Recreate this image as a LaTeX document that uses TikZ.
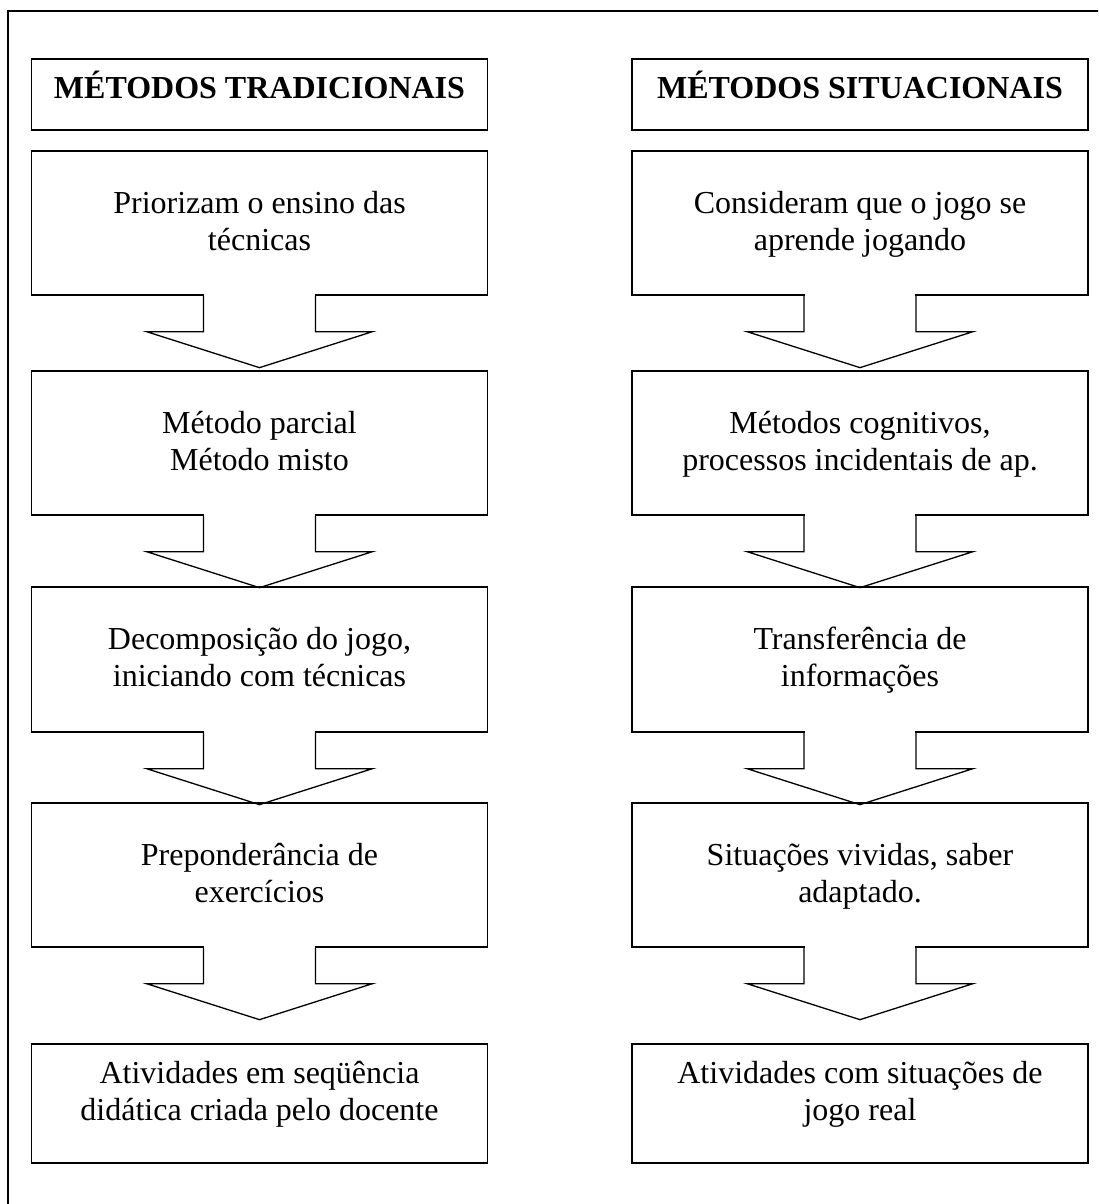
\documentclass[tikz,border=0pt]{standalone}
\usepackage{fontspec}
\setmainfont{Liberation Serif}
\tikzset{
  box/.style={draw=black, line width=1.3pt, minimum width=456pt, inner sep=0pt, fill=white},
  txt/.style={anchor=base, inner sep=0pt, font=\fontsize{32}{37}\selectfont},
  hdr/.style={anchor=base, inner sep=0pt, font=\fontsize{32}{37}\selectfont\bfseries},
  arr/.style={draw=black, line width=1.3pt, line join=miter}
}
\newcommand\flowarrow[1]{%
  \fill[white] ([xshift=-55.4pt,yshift=1.2pt]#1.south) rectangle ([xshift=55.4pt,yshift=-2pt]#1.south);
  \draw[arr] ([xshift=-56pt]#1.south) -- ([xshift=-56pt,yshift=-36pt]#1.south)
     -- ([xshift=-113pt,yshift=-36pt]#1.south) -- ([yshift=-72pt]#1.south)
     -- ([xshift=113pt,yshift=-36pt]#1.south) -- ([xshift=56pt,yshift=-36pt]#1.south)
     -- ([xshift=56pt]#1.south);}
\newcommand\twolines[2]{\begin{tabular}[t]{@{}c@{}}#1\\#2\end{tabular}}
\begin{document}
\begin{tikzpicture}[x=1pt,y=1pt]
\useasboundingbox (0,0) rectangle (1098,-1204);
\begin{scope}
\clip (0,0) rectangle (1098,-1204);
\draw[line width=1.6pt] (8,-11) rectangle (1120,-1230);
\end{scope}
% left column
\node[box, minimum height=71pt] (lh) at (259.5,-94.5) {};
\node[box, minimum height=144pt] (l1) at (259.5,-223) {};
\node[box, minimum height=144pt] (l2) at (259.5,-443) {};
\node[box, minimum height=145pt] (l3) at (259.5,-659.5) {};
\node[box, minimum height=144pt] (l4) at (259.5,-875) {};
\node[box, minimum height=119pt] (l5) at (259.5,-1103.5) {};
% right column
\node[box, minimum height=71pt] (rh) at (860,-94.5) {};
\node[box, minimum height=144pt] (r1) at (860,-223) {};
\node[box, minimum height=144pt] (r2) at (860,-443) {};
\node[box, minimum height=145pt] (r3) at (860,-659.5) {};
\node[box, minimum height=144pt] (r4) at (860,-875) {};
\node[box, minimum height=119pt] (r5) at (860,-1103.5) {};
% arrows
\flowarrow{l1}\flowarrow{l2}\flowarrow{l3}\flowarrow{l4}
\flowarrow{r1}\flowarrow{r2}\flowarrow{r3}\flowarrow{r4}
% texts
\node[hdr] (lht) at (259.5,-99) {MÉTODOS TRADICIONAIS};
\node[hdr] (rht) at (860,-99) {MÉTODOS SITUACIONAIS};
\node[txt] (l1t) at (259.5,-213) {\twolines{Priorizam o ensino das}{técnicas}};
\node[txt] (l2t) at (259.5,-433) {\twolines{Método parcial}{Método misto}};
\node[txt] (l3t) at (259.5,-649) {\twolines{Decomposição do jogo,}{iniciando com técnicas}};
\node[txt] (l4t) at (259.5,-865) {\twolines{Preponderância de}{exercícios}};
\node[txt] (l5t) at (259.5,-1083) {\twolines{Atividades em seqüência}{didática criada pelo docente}};
\node[txt] (r1t) at (860,-213) {\twolines{Consideram que o jogo se}{aprende jogando}};
\node[txt] (r2t) at (860,-433) {\twolines{Métodos cognitivos,}{processos incidentais de ap.}};
\node[txt] (r3t) at (860,-649) {\twolines{Transferência de}{informações}};
\node[txt] (r4t) at (860,-865) {\twolines{Situações vividas, saber}{adaptado.}};
\node[txt] (r5t) at (860,-1083) {\twolines{Atividades com situações de}{jogo real}};
\end{tikzpicture}
\end{document}
